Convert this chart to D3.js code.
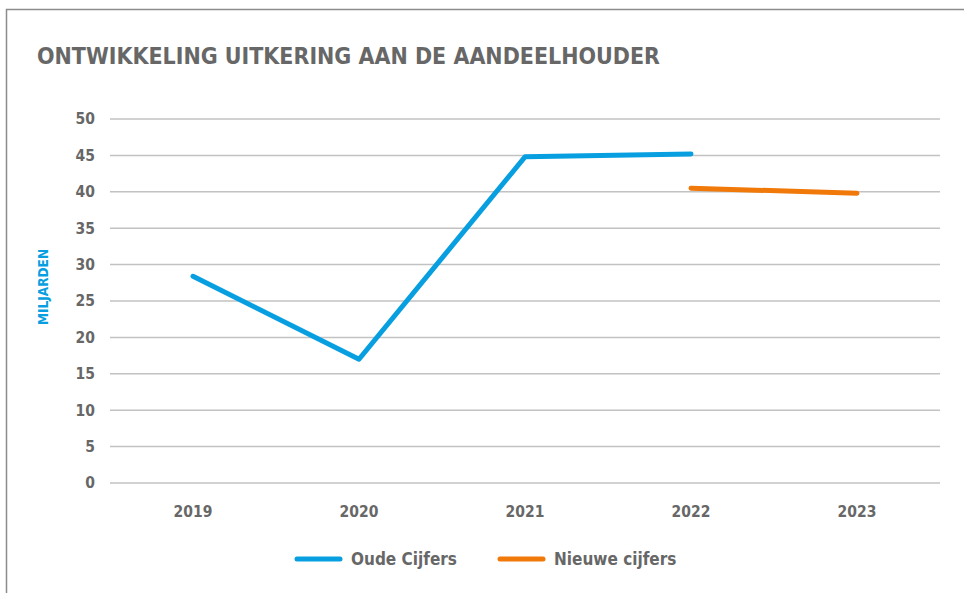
<!DOCTYPE html>
<meta charset="utf-8" />
<script src="https://d3js.org/d3.v7.min.js"></script>
<div id="chart"></div>
<script>
  // data
  const years = ["2019", "2020", "2021", "2022", "2023"];
  const oudeCijfers = [28.4, 17.0, 44.8, 45.2, null];
  const nieuweCijfers = [null, null, null, 40.5, 39.8];
  const yTicks = [0, 5, 10, 15, 20, 25, 30, 35, 40, 45, 50];

  const W = 964, H = 593;
  const margin = { top: 119, right: 24, bottom: 110, left: 110 },
    width = W - margin.left - margin.right,
    height = H - margin.top - margin.bottom;

  const grey = "#676767";
  const blue = "#079fe0";
  const orange = "#f17909";
  const font = "'DejaVu Sans Condensed', 'DejaVu Sans', sans-serif";

  const root = d3.select("#chart")
    .append("svg")
    .attr("width", W)
    .attr("height", H)
    .style("font-family", font);

  // frame (top + left only visible)
  root.append("path")
    .attr("d", `M6.5,${H} V9.5 H${W}`)
    .attr("fill", "none")
    .attr("stroke", "#8c8c8c")
    .attr("stroke-width", 1.5);

  root.append("text")
    .attr("x", 37)
    .attr("y", 64)
    .attr("fill", grey)
    .style("font-size", "23px")
    .style("font-weight", "bold")
    .attr("textLength", 623)
    .attr("lengthAdjust", "spacingAndGlyphs")
    .text("ONTWIKKELING UITKERING AAN DE AANDEELHOUDER");

  const svg = root.append("g")
    .attr("transform", `translate(${margin.left}, ${margin.top})`);

  const x = d3.scaleBand().domain(years).range([0, width]);
  const y = d3.scaleLinear().domain([0, 50]).range([height, 0]);

  // gridlines
  svg.append("g")
    .selectAll("line")
    .data(yTicks)
    .join("line")
    .attr("x1", 0)
    .attr("x2", width)
    .attr("y1", d => y(d))
    .attr("y2", d => y(d))
    .attr("stroke", "#c2c2c2")
    .attr("stroke-width", 1.5);

  // y axis labels
  const yAxis = svg.append("g")
    .attr("transform", "translate(-15,0)")
    .call(d3.axisLeft(y).tickValues(yTicks).tickSize(0).tickPadding(0));
  yAxis.select(".domain").remove();
  yAxis.selectAll("text")
    .attr("fill", grey)
    .style("font-family", font)
    .style("font-size", "15.5px")
    .style("font-weight", "bold");

  // x axis labels
  const xAxis = svg.append("g")
    .attr("transform", `translate(0, ${height})`)
    .call(d3.axisBottom(x).tickSize(0).tickPadding(23));
  xAxis.select(".domain").remove();
  xAxis.selectAll("text")
    .attr("fill", grey)
    .style("font-family", font)
    .style("font-size", "15.5px")
    .style("font-weight", "bold");

  // y title
  svg.append("text")
    .attr("transform", `translate(${43 - margin.left}, ${287 - margin.top}) rotate(-90)`)
    .attr("text-anchor", "middle")
    .attr("dominant-baseline", "central")
    .attr("fill", blue)
    .style("font-size", "13.5px")
    .style("font-weight", "bold")
    .text("MILJARDEN");

  const line = d3.line()
    .defined(d => d != null)
    .x((d, i) => x(years[i]) + x.bandwidth() / 2)
    .y(d => y(d));

  svg.append("path")
    .attr("d", line(oudeCijfers))
    .attr("fill", "none")
    .attr("stroke", blue)
    .attr("stroke-width", 5)
    .attr("stroke-linecap", "round")
    .attr("stroke-linejoin", "round");

  svg.append("path")
    .attr("d", line(nieuweCijfers))
    .attr("fill", "none")
    .attr("stroke", orange)
    .attr("stroke-width", 5)
    .attr("stroke-linecap", "round")
    .attr("stroke-linejoin", "round");

  // legend
  const legend = [
    { name: "Oude Cijfers", color: blue, x: 297 },
    { name: "Nieuwe cijfers", color: orange, x: 500 },
  ];
  const lg = root.append("g").selectAll("g")
    .data(legend)
    .join("g")
    .attr("transform", d => `translate(${d.x}, 559)`);
  lg.append("line")
    .attr("x1", 0).attr("x2", 43)
    .attr("stroke", d => d.color)
    .attr("stroke-width", 5)
    .attr("stroke-linecap", "round");
  lg.append("text")
    .attr("x", 54)
    .attr("y", 6)
    .attr("fill", grey)
    .style("font-size", "17px")
    .style("font-weight", "bold")
    .text(d => d.name);
</script>
<style>
  body { margin: 0; background: #fff; }
</style>
